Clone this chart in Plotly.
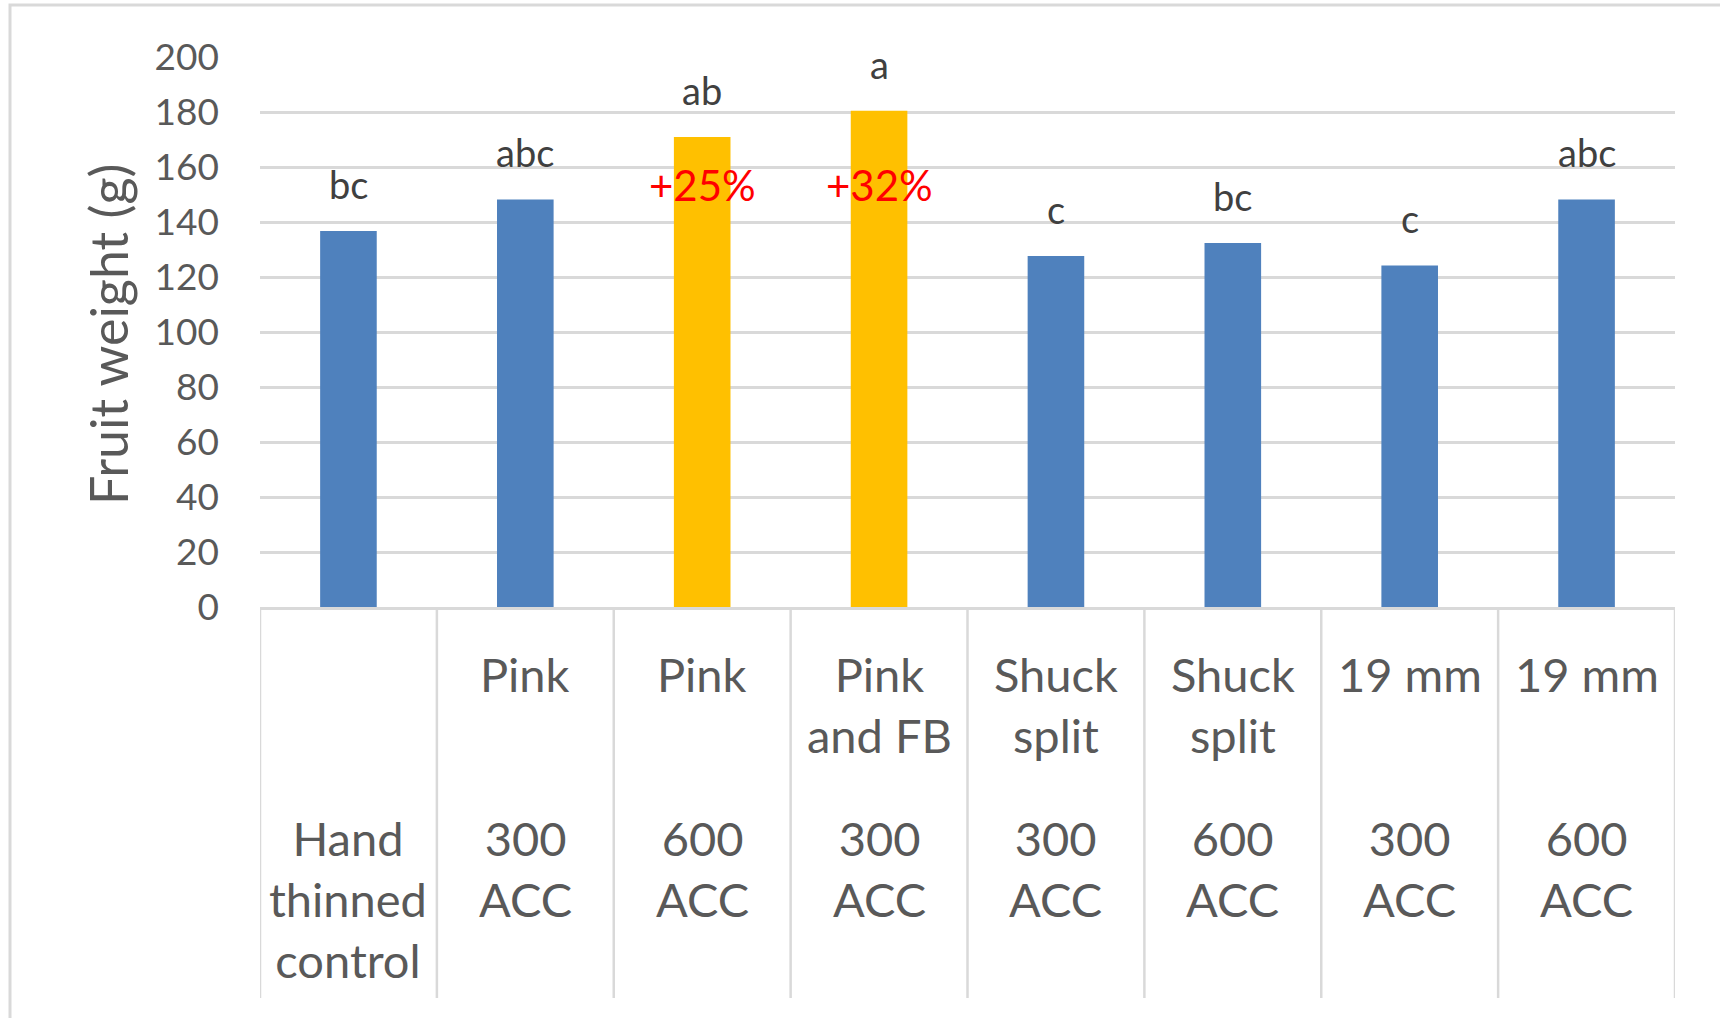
import plotly.graph_objects as go

# Thinning timing (upper label line(s)) and rate (lower label block) per treatment
timing = ["", "Pink", "Pink", "Pink\nand FB", "Shuck\nsplit", "Shuck\nsplit", "19 mm", "19 mm"]
rate = ["Hand\nthinned\ncontrol", "300\nACC", "600\nACC", "300\nACC",
        "300\nACC", "600\nACC", "300\nACC", "600\nACC"]

# Mean fruit weight (g) and mean-separation letters
fruit_weight = [136.7, 148.2, 170.9, 180.5, 127.6, 132.4, 124.2, 148.2]
letters = ["bc", "abc", "ab", "a", "c", "bc", "c", "abc"]
highlight = [False, False, True, True, False, False, False, False]

y_ticks = [0, 20, 40, 60, 80, 100, 120, 140, 160, 180, 200]

BLUE = "#4F81BD"
GOLD = "#FFC000"
GRID = "#D9D9D9"
TEXT = "#595959"
FONT = "Lato, 'Open Sans', sans-serif"

W, H = 1720, 1018
M_L, M_R, M_T, M_B = 260, 45, 57, 411
PLOT_W = W - M_L - M_R
PLOT_H = H - M_T - M_B

categories = [f"{t} {r}".replace("\n", " ").strip() for t, r in zip(timing, rate)]
colors = [GOLD if h else BLUE for h in highlight]

fig = go.Figure(
    go.Bar(
        x=categories,
        y=fruit_weight,
        marker=dict(color=colors, line=dict(width=0)),
        hoverinfo="x+y",
    )
)

annotations = []

# Significance letters above each bar
for cat, val, lab in zip(categories, fruit_weight, letters):
    annotations.append(dict(
        x=cat, y=val, xref="x", yref="y", text=lab, showarrow=False,
        yanchor="bottom", yshift=22,
        font=dict(family=FONT, size=38, color="#404040"),
    ))

# Percent increase over the hand-thinned control for highlighted treatments
control = fruit_weight[0]
for cat, val, h in zip(categories, fruit_weight, highlight):
    if h:
        pct = round((val / control - 1) * 100)
        annotations.append(dict(
            x=cat, y=153.5, xref="x", yref="y", text=f"+{pct}%", showarrow=False,
            yanchor="middle",
            font=dict(family=FONT, size=42, color="#FF0000"),
        ))

# Two-level category labels under the axis
for cat, t, r in zip(categories, timing, rate):
    if t:
        annotations.append(dict(
            x=cat, y=0, xref="x", yref="paper", text=t.replace("\n", "<br>"),
            showarrow=False, yanchor="top", yshift=-37,
            font=dict(family=FONT, size=47, color=TEXT),
        ))
    annotations.append(dict(
        x=cat, y=0, xref="x", yref="paper", text=r.replace("\n", "<br>"),
        showarrow=False, yanchor="top", yshift=-201,
        font=dict(family=FONT, size=47, color=TEXT),
    ))

# Axis title
annotations.append(dict(
    x=(108 - M_L) / PLOT_W, y=(H - M_B - 335) / PLOT_H, xref="paper", yref="paper",
    text="Fruit weight (g)", textangle=-90, showarrow=False,
    xanchor="center", yanchor="middle",
    font=dict(family=FONT, size=52, color=TEXT),
))

shapes = []
# Category separators below the axis
div_bottom = -(998 - (H - M_B)) / PLOT_H
for i in range(len(categories) + 1):
    shapes.append(dict(
        type="line", xref="x", yref="paper",
        x0=i - 0.5, x1=i - 0.5, y0=0, y1=div_bottom,
        line=dict(color=GRID, width=2.5),
    ))

# Chart frame
shapes.append(dict(
    type="rect", xref="paper", yref="paper",
    x0=(10 - M_L) / PLOT_W, x1=(W + 20 - M_L) / PLOT_W,
    y0=-(H + 20 - (H - M_B)) / PLOT_H, y1=(H - M_B - 5) / PLOT_H,
    line=dict(color=GRID, width=3), fillcolor="rgba(0,0,0,0)",
    layer="below",
))

fig.update_layout(
    width=W, height=H,
    margin=dict(l=M_L, r=M_R, t=M_T, b=M_B, pad=0),
    paper_bgcolor="white", plot_bgcolor="white",
    bargap=0.68,
    showlegend=False,
    annotations=annotations,
    shapes=shapes,
    font=dict(family=FONT, color=TEXT),
)

fig.update_xaxes(
    type="category",
    range=[-0.5, len(categories) - 0.5],
    showticklabels=False, ticks="",
    showline=True, linecolor=GRID, linewidth=3,
    showgrid=False, zeroline=False,
)

fig.update_yaxes(
    range=[0, 200],
    tickvals=y_ticks,
    ticktext=[str(v) for v in y_ticks],
    tickfont=dict(family=FONT, size=37, color=TEXT),
    ticklabelstandoff=40,
    ticks="",
    showgrid=True, gridcolor=GRID, gridwidth=2.5,
    zeroline=False, showline=False,
)

fig.write_html("out.html")
